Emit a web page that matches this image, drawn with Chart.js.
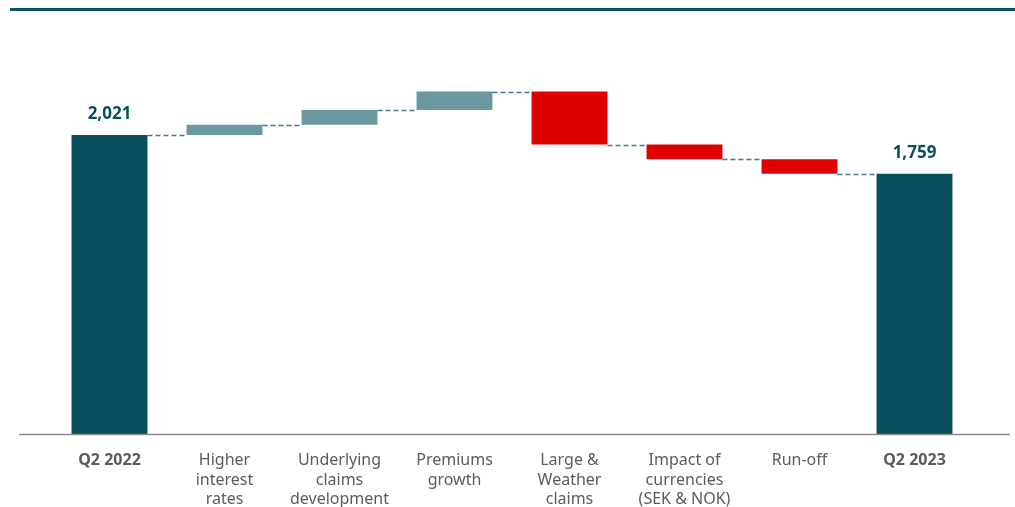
<!DOCTYPE html>
<html>
<head>
<meta charset="utf-8">
<script src="https://cdn.jsdelivr.net/npm/chart.js@4/dist/chart.umd.min.js"></script>
<style>
  html, body { margin: 0; padding: 0; background: #fff; overflow: hidden; }
  canvas { display: block; }
</style>
</head>
<body>
<canvas id="waterfall" width="1015" height="530"></canvas>
<script>
// Waterfall data
const categories = [
  ['Q2 2022'],
  ['Higher', 'interest', 'rates'],
  ['Underlying', 'claims', 'development'],
  ['Premiums', 'growth'],
  ['Large &', 'Weather', 'claims'],
  ['Impact of', 'currencies', '(SEK & NOK)'],
  ['Run-off'],
  ['Q2 2023']
];
const startValue = 2021;
const changes = [68, 100, 125, -358, -100, -97];
const endValue = 1759;

const TOTAL = '#08505e';
const UP = '#6b999f';
const DOWN = '#df0000';

// build floating bars from the running total
const ranges = [[0, startValue]];
const colors = [TOTAL];
let running = startValue;
changes.forEach(c => {
  ranges.push([running, running + c]);
  colors.push(c >= 0 ? UP : DOWN);
  running += c;
});
ranges.push([0, endValue]);
colors.push(TOTAL);
const levels = ranges.map(r => r[1]);

const extras = {
  id: 'extras',
  beforeDraw(chart) {
    const c = chart.ctx;
    c.save();
    c.strokeStyle = '#0b5461';
    c.lineWidth = 3;
    c.beginPath();
    c.moveTo(10, 9.5);
    c.lineTo(1015, 9.5);
    c.stroke();
    c.restore();
  },
  afterDatasetsDraw(chart) {
    const c = chart.ctx;
    const meta = chart.getDatasetMeta(0);
    const y = chart.scales.y;
    c.save();
    // connectors
    c.strokeStyle = '#3f7a84';
    c.lineWidth = 1.5;
    c.setLineDash([5, 3]);
    for (let i = 0; i < meta.data.length - 1; i++) {
      const a = meta.data[i], b = meta.data[i + 1];
      const yy = Math.round(y.getPixelForValue(levels[i])) + 0.5;
      c.beginPath();
      c.moveTo(a.x + a.width / 2, yy);
      c.lineTo(b.x - b.width / 2, yy);
      c.stroke();
    }
    c.setLineDash([]);
    // axis line
    const bottom = chart.chartArea.bottom;
    c.strokeStyle = '#8a8a8a';
    c.lineWidth = 1.5;
    c.beginPath();
    c.moveTo(19, bottom + 0.5);
    c.lineTo(1010, bottom + 0.5);
    c.stroke();
    // total labels
    c.fillStyle = '#08505e';
    c.font = 'bold 17px "Noto Sans"';
    c.textAlign = 'center';
    c.textBaseline = 'bottom';
    [0, meta.data.length - 1].forEach(i => {
      const bar = meta.data[i];
      c.fillText(levels[i].toLocaleString('en-US'), bar.x, bar.y - 12);
    });
    c.restore();
  }
};

new Chart(document.getElementById('waterfall'), {
  type: 'bar',
  data: {
    labels: categories,
    datasets: [{
      data: ranges,
      backgroundColor: colors,
      borderWidth: 0,
      borderSkipped: false,
      categoryPercentage: 1,
      barPercentage: 0.66
    }]
  },
  options: {
    responsive: false,
    animation: false,
    devicePixelRatio: 1,
    layout: { padding: { left: 52, right: 43, top: 64, bottom: 0 } },
    plugins: { legend: { display: false }, tooltip: { enabled: false } },
    scales: {
      x: {
        grid: { display: false },
        border: { display: false },
        afterFit(scale) { scale.height = 96; },
        ticks: {
          padding: 9,
          maxRotation: 0,
          autoSkip: false,
          color: '#5c5c5c',
          font: ctx => ({
            family: '"Noto Sans"',
            size: 16,
            weight: (ctx.index === 0 || ctx.index === categories.length - 1) ? 'bold' : 'normal',
            lineHeight: 1.22
          })
        }
      },
      y: {
        display: false,
        min: 0,
        max: 2500
      }
    }
  },
  plugins: [extras]
});
</script>
</body>
</html>
